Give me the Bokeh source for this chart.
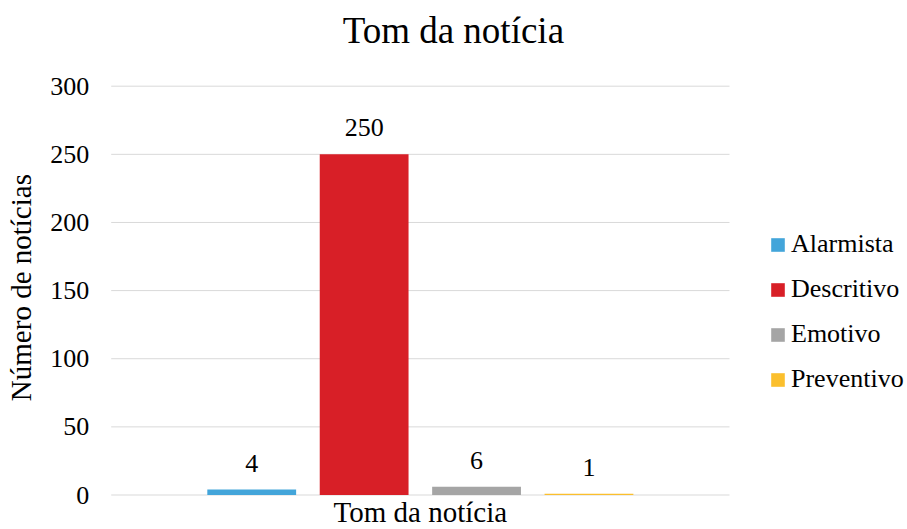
import math
from bokeh.plotting import figure
from bokeh.models import ColumnDataSource, Range1d, LabelSet, Label, Legend, LegendItem
from bokeh.core.properties import value
from bokeh.embed import file_html
from bokeh.resources import INLINE

# ---- data ----
categories = ["Alarmista", "Descritivo", "Emotivo", "Preventivo"]
values = [4, 250, 6, 1]
colors = ["#43A5DA", "#D81F27", "#A5A5A5", "#FBBF2D"]
y_ticks = [0, 50, 100, 150, 200, 250, 300]
title_text = "Tom da notícia"
x_title = "Tom da notícia"
y_title = "Número de notícias"

FONT = "Liberation Serif"

n = len(categories)
W, H = 907, 529
# plot-area placement in canvas pixels
PL, PR = 110.7, 729.0           # left/right edge of plotting area
TOP_PX, BOTTOM_PX = 85.7, 34.5  # space above / below plotting area
PAD = 1.25                      # category padding (in bar-pitch units)

ppu = (PR - PL) / (n - 1 + 2 * PAD)
x_lo = -PAD
x_hi = n - 1 + PAD
x_start = x_lo - PL / ppu
x_end = x_hi + (W - PR) / ppu
upp = (y_ticks[-1] - y_ticks[0]) / (H - TOP_PX - BOTTOM_PX)
y_start = y_ticks[0] - BOTTOM_PX * upp
y_end = y_ticks[-1] + TOP_PX * upp

src = ColumnDataSource(dict(
    x=list(range(n)),
    top=values,
    color=colors,
    label=[str(v) for v in values],
))
grid_src = ColumnDataSource(dict(
    y=y_ticks,
    x0=[x_lo] * len(y_ticks),
    x1=[x_hi] * len(y_ticks),
    label=[str(t) for t in y_ticks],
))

p = figure(width=W, height=H, output_backend="svg", toolbar_location=None,
           x_range=Range1d(x_start, x_end), y_range=Range1d(y_start, y_end),
           x_axis_type=None, y_axis_type=None,
           min_border_left=0, min_border_right=0, min_border_top=0, min_border_bottom=0)
p.outline_line_color = None
p.background_fill_color = "white"
p.border_fill_color = "white"

# gridlines (value axis)
p.segment(x0="x0", x1="x1", y0="y", y1="y", source=grid_src,
          line_color="#D9D9D9", line_width=1)

# bars
r = p.vbar(x="x", top="top", width=0.79, bottom=0, color="color", source=src, line_color=None)

# y tick labels
p.text(x="x0", y="y", text="label", source=grid_src, x_offset=-22,
       text_align="right", text_baseline="middle", text_font=value(FONT),
       text_font_size=value("26px"), text_color="#000000")

# y axis title
yl = Label(x=x_lo, y=(y_ticks[0] + y_ticks[-1]) / 2, text=y_title, angle=math.pi / 2,
           text_align="center", text_baseline="alphabetic", x_offset=-(PL - 20), y_offset=3,
           text_font=FONT, text_font_size="29px", text_color="#000000")
p.add_layout(yl)

# data labels
labels = LabelSet(x="x", y="top", text="label", source=src, text_align="center",
                  text_baseline="alphabetic", y_offset=18, text_font=value(FONT),
                  text_font_size=value("26px"), text_color=value("#000000"))
p.add_layout(labels)

# chart title
tl = Label(x=(n - 1) / 2, y=y_ticks[-1], text=title_text, text_align="center",
           text_baseline="alphabetic", x_offset=33, y_offset=56, text_font=FONT,
           text_font_size="37px", text_color="#000000")
p.add_layout(tl)

# x axis title
xl = Label(x=(n - 1) / 2, y=y_ticks[0], text=x_title, text_align="center",
           text_baseline="alphabetic", y_offset=-17, text_font=FONT,
           text_font_size="29px", text_color="#000000")
p.add_layout(xl)

# legend
items = [LegendItem(label=c, renderers=[r], index=i) for i, c in enumerate(categories)]
legend = Legend(items=items, location=(769, 135), orientation="vertical",
                glyph_width=17, glyph_height=17, label_standoff=5, label_height=30,
                spacing=15, padding=0, margin=0, border_line_color=None,
                background_fill_alpha=0, label_text_font=FONT, label_text_font_size="26px",
                label_text_color="#000000")
p.add_layout(legend, "center")

open("out.html", "w").write(file_html(p, INLINE))
